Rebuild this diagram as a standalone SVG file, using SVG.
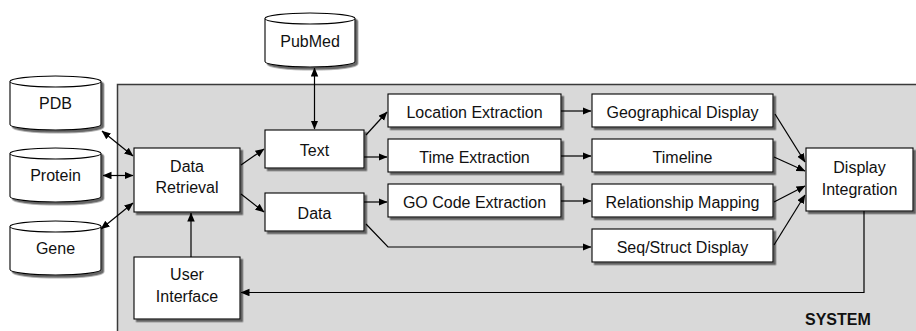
<svg xmlns="http://www.w3.org/2000/svg" width="916" height="331" viewBox="0 0 916 331">
<defs>
<filter id="sh" x="-10%" y="-10%" width="130%" height="140%">
<feDropShadow dx="2.5" dy="2.5" stdDeviation="0.7" flood-color="#555" flood-opacity="0.9"/>
</filter>
<marker id="ah" markerWidth="9" markerHeight="8" refX="8.5" refY="3.75" orient="auto-start-reverse" markerUnits="userSpaceOnUse">
<path d="M0,0 L9,3.75 L0,7.5 z" fill="#000"/>
</marker>
<style>
.box{fill:#fff;stroke:#000;stroke-width:1.1;filter:url(#sh)}
.cyl{fill:#fff;stroke:#000;stroke-width:1.1}
.t{font-family:"Liberation Sans",Arial,Helvetica,sans-serif;font-size:16px;fill:#111;text-anchor:middle}
.c{fill:none;stroke:#000;stroke-width:1.2}
.a{marker-end:url(#ah)}
.d{marker-start:url(#ah);marker-end:url(#ah)}
</style>
</defs>
<rect id="system" x="117.5" y="84.5" width="820" height="300" fill="#d9d9d9" stroke="#3a3a3a" stroke-width="1.5"/>
<text x="805" y="325" style="font-family:'Liberation Sans',Arial,sans-serif;font-size:16px;font-weight:bold;fill:#111">SYSTEM</text>

<g id="pubmed">
<g filter="url(#sh)"><path class="cyl" d="M265,18.5 a45,5.5 0 0,1 90,0 V61.5 a45,5.5 0 0,1 -90,0 Z"/></g>
<path class="cyl" d="M265,18.5 a45,5.5 0 0,0 90,0"/>
<text class="t" x="310" y="47">PubMed</text>
</g>
<g id="pdb">
<g filter="url(#sh)"><path class="cyl" d="M10,81.5 a45.5,5.5 0 0,1 91,0 V124.5 a45.5,5.5 0 0,1 -91,0 Z"/></g>
<path class="cyl" d="M10,81.5 a45.5,5.5 0 0,0 91,0"/>
<text class="t" x="55.5" y="109">PDB</text>
</g>
<g id="protein">
<g filter="url(#sh)"><path class="cyl" d="M10,153.5 a45.5,5.5 0 0,1 91,0 V196.5 a45.5,5.5 0 0,1 -91,0 Z"/></g>
<path class="cyl" d="M10,153.5 a45.5,5.5 0 0,0 91,0"/>
<text class="t" x="55.5" y="181">Protein</text>
</g>
<g id="gene">
<g filter="url(#sh)"><path class="cyl" d="M10,226.5 a45.5,5.5 0 0,1 91,0 V269.5 a45.5,5.5 0 0,1 -91,0 Z"/></g>
<path class="cyl" d="M10,226.5 a45.5,5.5 0 0,0 91,0"/>
<text class="t" x="55.5" y="254">Gene</text>
</g>

<g id="data-retrieval">
<rect class="box" x="134" y="148" width="106" height="64"/>
<text class="t" x="187" y="172">Data</text>
<text class="t" x="187" y="193">Retrieval</text>
</g>
<g id="user-interface">
<rect class="box" x="134" y="257" width="106" height="62"/>
<text class="t" x="187" y="280">User</text>
<text class="t" x="187" y="302">Interface</text>
</g>
<g id="text">
<rect class="box" x="265" y="130" width="99" height="38"/>
<text class="t" x="314.5" y="155.5">Text</text>
</g>
<g id="data">
<rect class="box" x="265" y="193" width="99" height="38"/>
<text class="t" x="314.5" y="218.5">Data</text>
</g>
<g id="location-extraction">
<rect class="box" x="388" y="94" width="173" height="33"/>
<text class="t" x="474.5" y="117.5">Location Extraction</text>
</g>
<g id="time-extraction">
<rect class="box" x="388" y="139" width="173" height="33"/>
<text class="t" x="474.5" y="162.5">Time Extraction</text>
</g>
<g id="go-code-extraction">
<rect class="box" x="388" y="184" width="173" height="33"/>
<text class="t" x="474.5" y="207.5">GO Code Extraction</text>
</g>
<g id="geographical-display">
<rect class="box" x="592" y="94" width="181" height="33"/>
<text class="t" x="682.5" y="117.5">Geographical Display</text>
</g>
<g id="timeline">
<rect class="box" x="592" y="139" width="181" height="33"/>
<text class="t" x="682.5" y="162.5">Timeline</text>
</g>
<g id="relationship-mapping">
<rect class="box" x="592" y="184" width="181" height="33"/>
<text class="t" x="682.5" y="207.5">Relationship Mapping</text>
</g>
<g id="seq-struct-display">
<rect class="box" x="592" y="229" width="181" height="33"/>
<text class="t" x="682.5" y="252.5">Seq/Struct Display</text>
</g>
<g id="display-integration">
<rect class="box" x="806" y="148" width="107" height="63"/>
<text class="t" x="859.5" y="173">Display</text>
<text class="t" x="859.5" y="194.5">Integration</text>
</g>

<g id="connectors">
<line class="c d" x1="102" y1="131" x2="133" y2="156"/>
<line class="c d" x1="103" y1="175.5" x2="133" y2="175.5"/>
<line class="c d" x1="101" y1="229" x2="133" y2="203"/>
<line class="c d" x1="314.5" y1="68" x2="314.5" y2="129"/>
<line class="c a" x1="241" y1="165" x2="264" y2="149"/>
<line class="c a" x1="241" y1="194" x2="264" y2="212"/>
<line class="c a" x1="191" y1="257" x2="191" y2="213"/>
<line class="c a" x1="366" y1="135" x2="387" y2="112"/>
<line class="c a" x1="364" y1="157" x2="387" y2="157"/>
<line class="c a" x1="364" y1="202" x2="387" y2="202"/>
<polyline class="c a" points="366,224 388,247 591,247"/>
<line class="c a" x1="561" y1="111" x2="591" y2="111"/>
<line class="c a" x1="561" y1="156" x2="591" y2="156"/>
<line class="c a" x1="561" y1="201" x2="591" y2="201"/>
<line class="c a" x1="775" y1="114" x2="805" y2="162"/>
<line class="c a" x1="774" y1="157" x2="805" y2="171"/>
<line class="c a" x1="774" y1="202" x2="805" y2="186"/>
<line class="c a" x1="774" y1="245" x2="805" y2="195"/>
<polyline class="c a" points="864,211 864,292.5 241,292.5"/>
</g>
</svg>
